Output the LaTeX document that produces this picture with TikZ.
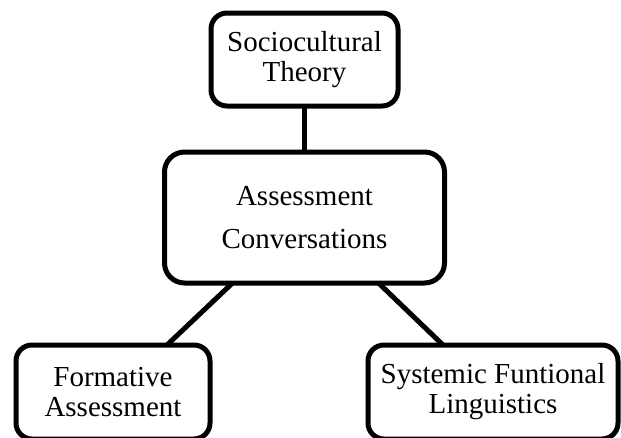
\documentclass[tikz,border=0pt]{standalone}
\usepackage{fontspec}
\setmainfont{Liberation Serif}
\usetikzlibrary{positioning}

\begin{document}
\begin{tikzpicture}[x=1pt,y=-1pt,line width=5pt,
		box/.style={draw,rounded corners=16pt,align=center,inner sep=0pt,outer sep=0pt,font=\fontsize{29}{30}\selectfont}]
		\useasboundingbox (0,0) rectangle (621,437);
		\node[box,minimum width=187pt,minimum height=93pt] (theory) at (304.5,59.5) {Sociocultural\\Theory};
		\node[box,minimum width=280pt,minimum height=131pt,rounded corners=20pt,font=\fontsize{29}{43}\selectfont] (conv) at (304.5,217.5) {Assessment\\Conversations};
		\node[box,minimum width=194pt,minimum height=94pt] (formative) at (113,392) {Formative\\Assessment};
		\node[box,minimum width=250pt,minimum height=94pt] (sfl) at (493,392) {Systemic Funtional\\Linguistics};
		\draw  (theory) -- (conv);
		\draw  ([xshift=68pt]conv.south west) -- ([xshift=151pt]formative.north west);
		\draw  ([xshift=-66pt]conv.south east) -- ([xshift=75pt]sfl.north west);
		
		\end{tikzpicture}
\end{document}
